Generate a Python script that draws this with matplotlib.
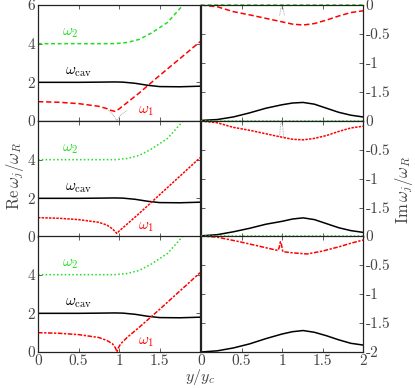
import matplotlib
matplotlib.use("Agg")
import matplotlib.pyplot as plt

plt.rcParams['mathtext.fontset'] = 'cm'
plt.rcParams['font.family'] = ['cmr10', 'DejaVu Serif']
plt.rcParams['axes.unicode_minus'] = False

# ---------------- data ----------------
re_cav_x = [0, 0.25, 0.5, 0.75, 0.95, 1.05, 1.2, 1.35, 1.5, 1.75, 2.0]
re_cav_y = [2.0, 2.0, 2.0, 2.01, 2.02, 2.01, 1.95, 1.85, 1.78, 1.77, 1.8]

re_w2_x = [0, 0.5, 0.95, 1.1, 1.25, 1.4, 1.6, 1.78, 1.9, 2.0]
re_w2_y = [4.0, 4.0, 4.0, 4.06, 4.22, 4.55, 5.1, 5.95, 6.6, 7.2]

re_w1_r1_x = [0, 0.25, 0.5, 0.75, 0.85, 0.9, 0.95, 1.0, 1.25, 1.5, 1.75, 2.0]
re_w1_r1_y = [1.0, 0.97, 0.9, 0.76, 0.64, 0.55, 0.5, 0.62, 1.45, 2.35, 3.22, 4.1]
gray_r1_x = [0.87, 0.92, 0.95, 0.975, 1.0, 1.04, 1.1]
gray_r1_y = [0.55, 0.35, 0.18, 0.0, 0.2, 0.38, 0.55]

re_w1_r2_x = [0, 0.25, 0.5, 0.75, 0.85, 0.92, 0.975, 1.0, 1.25, 1.5, 1.75, 2.0]
re_w1_r2_y = [1.0, 0.97, 0.9, 0.76, 0.62, 0.42, 0.18, 0.3, 1.22, 2.18, 3.14, 4.1]

re_w1_r3_x = [0, 0.25, 0.5, 0.75, 0.85, 0.92, 0.955, 0.975, 0.99, 1.02, 1.1, 1.25, 1.5, 1.75, 2.0]
re_w1_r3_y = [1.0, 0.97, 0.9, 0.75, 0.6, 0.42, 0.22, 0.0, 0.2, 0.42, 0.75, 1.28, 2.2, 3.15, 4.1]

im_x = [0, 0.2, 0.4, 0.6, 0.8, 1.0, 1.13, 1.26, 1.4, 1.55, 1.7, 1.85, 2.0]
im_w1_r1 = [0.0, -0.03, -0.115, -0.17, -0.23, -0.29, -0.33, -0.345, -0.32, -0.26, -0.19, -0.13, -0.10]
im_cav_r1 = [-1.99, -1.975, -1.93, -1.86, -1.78, -1.72, -1.69, -1.68, -1.71, -1.78, -1.85, -1.9, -1.93]
gray_im_r1_x = [0.97, 0.99, 1.01, 1.03]
gray_im_r1_y = [-0.18, -0.03, -0.03, -0.18]

im_w1_r2 = [0.0, -0.03, -0.11, -0.16, -0.22, -0.28, -0.315, -0.325, -0.3, -0.25, -0.18, -0.12, -0.09]
im_cav_r2 = [-1.98, -1.96, -1.91, -1.85, -1.78, -1.73, -1.69, -1.67, -1.70, -1.77, -1.84, -1.89, -1.92]
gray_im_r2_x = [0.97, 0.98, 0.99, 1.0, 1.01, 1.02]
gray_im_r2_y = [-0.27, -0.1, -0.03, -0.03, -0.1, -0.29]

im_w1_r3_x = [0, 0.2, 0.48, 0.7, 0.95, 0.965, 0.98, 0.99, 1.0, 1.01, 1.13, 1.31, 1.5, 1.72, 1.86, 2.0]
im_w1_r3_y = [0.0, -0.02, -0.1, -0.17, -0.25, -0.2, -0.1, -0.12, -0.2, -0.27, -0.29, -0.31, -0.26, -0.18, -0.12, -0.07]
im_cav_r3 = [-2.0, -1.98, -1.93, -1.86, -1.77, -1.69, -1.65, -1.63, -1.66, -1.72, -1.79, -1.85, -1.88]

im_w2_x = [0, 2.0]
im_w2_y = [0.0, 0.0]

# ---------------- figure ----------------
W, H = 415, 388
fig = plt.figure(figsize=(W / 100, H / 100), dpi=100)

lx0, rx0, pw = 38, 201, 162
row_tops = [5, 121, 236]
ph = 116

red = '#ff0000'
green = '#22dd22'
tc = '#444444'
LW = 1.1

rows = [
    dict(w1=(re_w1_r1_x, re_w1_r1_y), w1ls=(0, (3.5, 1.8)), w2ls=(0, (2.5, 1.8)),
         gray=(gray_r1_x, gray_r1_y),
         im_w1=(im_x, im_w1_r1), im_cav=(im_x, im_cav_r1),
         gray_im=(gray_im_r1_x, gray_im_r1_y)),
    dict(w1=(re_w1_r2_x, re_w1_r2_y), w1ls=(0, (1.6, 0.8)), w2ls=(0, (1, 1.5)),
         gray=None,
         im_w1=(im_x, im_w1_r2), im_cav=(im_x, im_cav_r2),
         gray_im=(gray_im_r2_x, gray_im_r2_y)),
    dict(w1=(re_w1_r3_x, re_w1_r3_y), w1ls=(0, (3, 1, 1.5, 1)), w2ls=(0, (1, 1.5)),
         gray=None,
         im_w1=(im_w1_r3_x, im_w1_r3_y), im_cav=(im_x, im_cav_r3),
         gray_im=None),
]

for i, r in enumerate(rows):
    top = row_tops[i]
    axL = fig.add_axes([lx0 / W, 1 - (top + ph) / H, pw / W, ph / H])
    axR = fig.add_axes([rx0 / W, 1 - (top + ph) / H, pw / W, ph / H])

    axL.plot(re_cav_x, re_cav_y, color='black', lw=LW)
    axL.plot(re_w2_x, re_w2_y, color=green, lw=LW, linestyle=r['w2ls'])
    axL.plot(*r['w1'], color=red, lw=LW, linestyle=r['w1ls'])
    if r['gray'] is not None:
        axL.plot(*r['gray'], color='#999999', lw=0.6, linestyle=(0, (1, 1)))
    axL.set_xlim(0, 2)
    axL.set_ylim(0, 6)
    axL.set_yticks([0, 2, 4, 6])
    axL.set_yticklabels(['0', '2', '4', '6' if i == 0 else ''])
    axL.set_xticks([0, 0.5, 1, 1.5, 2])
    if i == 2:
        axL.set_xticklabels(['0', '0.5', '1', '1.5', ''])
    else:
        axL.set_xticklabels([])
    axL.tick_params(direction='in', top=True, right=True, labelsize=11,
                    colors=tc, length=3, width=0.6, pad=2)
    axL.text(0.4, 4.55, r'$\omega_2$', color=green, fontsize=11, ha='center', va='center')
    axL.text(0.5, 2.55, r'$\omega_{\rm cav}$', color='black', fontsize=11, ha='center', va='center')
    axL.text(1.33, 0.5, r'$\omega_1$', color=red, fontsize=11, ha='center', va='center')

    axR.plot(*r['im_cav'], color='black', lw=LW)
    axR.plot(*r['im_w1'], color=red, lw=LW, linestyle=r['w1ls'])
    if r['gray_im'] is not None:
        axR.plot(*r['gray_im'], color='#999999', lw=0.6, linestyle=(0, (1, 1)))
    axR.plot(im_w2_x, im_w2_y, color=green, lw=LW, linestyle=r['w2ls'], clip_on=False)
    axR.set_xlim(0, 2)
    axR.set_ylim(-2, 0)
    axR.set_yticks([0, -0.5, -1, -1.5, -2])
    axR.set_yticklabels(['0', '-0.5', '-1', '-1.5', '-2' if i == 2 else ''])
    axR.yaxis.tick_right()
    axR.set_xticks([0, 0.5, 1, 1.5, 2])
    if i == 2:
        axR.set_xticklabels(['0', '0.5', '1', '1.5', '2'])
    else:
        axR.set_xticklabels([])
    axR.tick_params(direction='in', top=True, left=True, right=True, labelsize=11,
                    colors=tc, length=3, width=0.6, pad=2)

    for ax in (axL, axR):
        for s in ax.spines.values():
            s.set_linewidth(0.9)
            s.set_color('#222222')

fig.text(15 / W, 1 - 176 / H, r'$\mathrm{Re}\,\omega_j/\omega_R$', rotation=90,
         ha='center', va='center', fontsize=12, color=tc)
fig.text(404 / W, 1 - 190 / H, r'$\mathrm{Im}\,\omega_j/\omega_R$', rotation=90,
         ha='center', va='center', fontsize=12, color=tc)
fig.text(200 / W, 1 - 377 / H, r'$y/y_c$', ha='center', va='center', fontsize=11.5, color=tc)

fig.savefig('out.png', dpi=100)
